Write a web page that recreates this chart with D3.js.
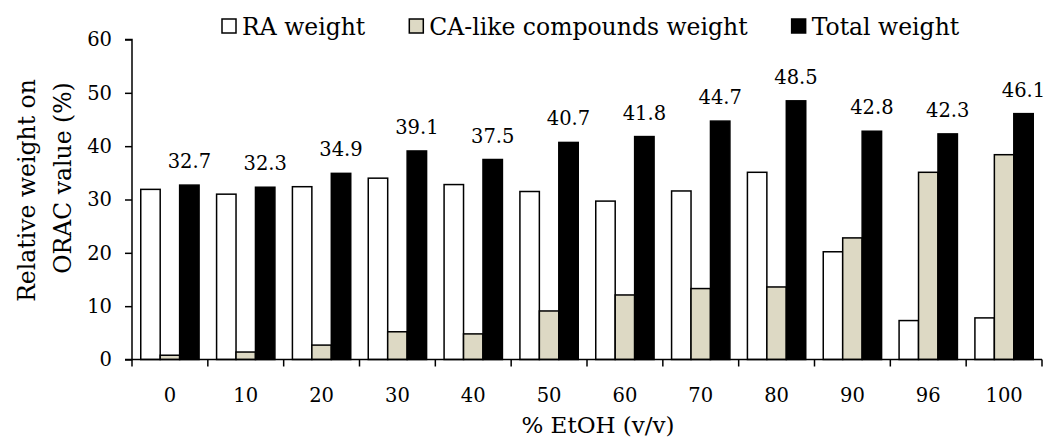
<!DOCTYPE html>
<html>
<head>
<meta charset="utf-8">
<script src="https://cdn.jsdelivr.net/npm/d3@7"></script>
<style>
    body { margin: 0; background: #fff; }
    text { font-family: "DejaVu Serif", serif; fill: #000; }
</style>
</head>
<body>
<div id="chart"></div>
<script>
// Chart data
const categories = ["0", "10", "20", "30", "40", "50", "60", "70", "80", "90", "96", "100"];
const seriesNames = ["RA weight", "CA-like compounds weight", "Total weight"];
const raWeight = [31.9, 31.0, 32.4, 34.0, 32.8, 31.5, 29.7, 31.6, 35.1, 20.2, 7.3, 7.8];
const caWeight = [0.8, 1.4, 2.7, 5.2, 4.8, 9.1, 12.1, 13.3, 13.6, 22.8, 35.1, 38.4];
const totalWeight = [32.7, 32.3, 34.9, 39.1, 37.5, 40.7, 41.8, 44.7, 48.5, 42.8, 42.3, 46.1];
const yTicks = [0, 10, 20, 30, 40, 50, 60];

const colors = ["#ffffff", "#ddd9c4", "#000000"];
// Times is not installed here, DejaVu Serif is the closest serif face
const serifFont = "'DejaVu Serif', serif";
const width = 1048, height = 441;
const plotLeft = 132, plotRight = 1042, plotTop = 39.5, plotBottom = 359.5;

let svg = d3.select("#chart").append("svg")
    .attr("width", width)
    .attr("height", height);

let x = d3.scaleBand()
    .domain(categories)
    .range([plotLeft, plotRight]);

let xInner = d3.scaleBand()
    .domain(d3.range(3))
    .range([0, x.bandwidth()])
    .paddingOuter(0.45);

let y = d3.scaleLinear()
    .domain([0, 60])
    .range([plotBottom, plotTop]);

// one row per category
let rows = categories.map(function(c, i) {
    return {cat: c, vals: [raWeight[i], caWeight[i], totalWeight[i]]};
});

let groups = svg.selectAll(".grp")
    .data(rows)
    .enter().append("g")
    .attr("class", "grp")
    .attr("transform", function(d) { return `translate(${x(d.cat)},0)`; });

groups.selectAll("rect")
    .data(function(d) { return d.vals.map(function(v, k) { return {v: v, k: k}; }); })
    .enter().append("rect")
    .attr("x", function(d) { return xInner(d.k); })
    .attr("width", xInner.bandwidth())
    .attr("y", function(d) { return y(d.v); })
    .attr("height", function(d) { return y(0) - y(d.v); })
    .style("fill", function(d) { return colors[d.k]; })
    .style("stroke", "#000")
    .style("stroke-width", 1.5);

// value labels over total bars
groups.append("text")
    .attr("x", xInner(2) + xInner.bandwidth() / 2)
    .attr("y", function(d) { return y(d.vals[2]) - 17; })
    .attr("text-anchor", "middle")
    .style("font-family", serifFont)
    .style("font-size", "19.5px")
    .text(function(d) { return d.vals[2].toFixed(1); });

// y axis
let yAxis = svg.append("g")
    .attr("transform", `translate(${plotLeft},0)`)
    .call(d3.axisLeft(y).tickValues(yTicks).tickSize(7).tickPadding(13));

// x axis
let xAxis = svg.append("g")
    .attr("transform", `translate(0,${plotBottom})`)
    .call(d3.axisBottom(x).tickSize(0).tickPadding(29));

xAxis.selectAll(".xtick")
    .data(d3.range(categories.length + 1))
    .enter().append("line")
    .attr("x1", function(i) { return plotLeft + i * x.step(); })
    .attr("x2", function(i) { return plotLeft + i * x.step(); })
    .attr("y1", 0)
    .attr("y2", 7)
    .style("stroke", "#000")
    .style("stroke-width", 1.5);

[yAxis, xAxis].forEach(function(a) {
    a.attr("font-family", null);
    a.select(".domain").style("stroke", "#000").style("stroke-width", 1.5);
    a.selectAll(".tick line").style("stroke", "#000").style("stroke-width", 1.5);
    a.selectAll(".tick text")
        .style("font-size", "19.5px")
        .style("font-family", serifFont)
        .style("fill", "#000");
});
yAxis.select(".domain").attr("d", `M-7,${plotTop}H0V${plotBottom}H-7`);
xAxis.select(".domain").attr("d", `M${plotLeft},0H${plotRight}`);

// axis titles
svg.append("text")
    .attr("x", 598)
    .attr("y", 433)
    .attr("text-anchor", "middle")
    .style("font-family", serifFont)
    .style("font-size", "23px")
    .text("% EtOH (v/v)");

svg.append("text")
    .attr("transform", "translate(35,190.5) rotate(-90)")
    .attr("text-anchor", "middle")
    .style("font-family", serifFont)
    .style("font-size", "23.5px")
    .text("Relative weight on");

svg.append("text")
    .attr("transform", "translate(71,178) rotate(-90)")
    .attr("text-anchor", "middle")
    .style("font-family", serifFont)
    .style("font-size", "23.5px")
    .text("ORAC value (%)");

// legend
let lx = 222;
seriesNames.forEach(function(name, k) {
    svg.append("rect")
        .attr("x", lx)
        .attr("y", 19)
        .attr("width", 14)
        .attr("height", 14)
        .style("fill", colors[k])
        .style("stroke", "#000")
        .style("stroke-width", 1.5);
    let t = svg.append("text")
        .attr("x", lx + 20)
        .attr("y", 35)
        .style("font-family", serifFont)
        .style("font-size", "23.5px")
        .text(name);
    lx = lx + 20 + t.node().getComputedTextLength() + 44;
});
</script>
</body>
</html>
